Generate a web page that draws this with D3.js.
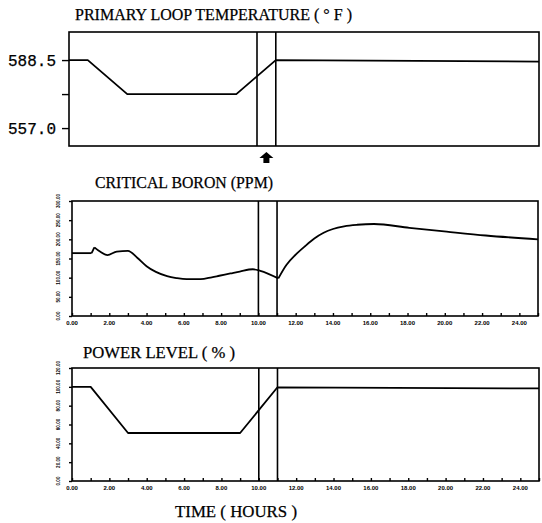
<!DOCTYPE html>
<html>
<head>
<meta charset="utf-8">
<script src="https://cdn.jsdelivr.net/npm/d3@7"></script>
<style>
  body { margin: 0; background: #fff; }
  svg { display: block; }
  .ttl { font-family: "Liberation Serif", serif; font-size: 17px; fill: #000; stroke: #000; stroke-width: 0.25px; }
  .tk { font-family: "Liberation Sans", sans-serif; font-size: 6px; font-weight: bold; fill: #000; }
  .tky { font-family: "Liberation Sans", sans-serif; font-size: 4.6px; font-weight: bold; fill: #000; }
</style>
</head>
<body>
<div id="chart"></div>
<script>
// time axis (hours)
var hourTicks = [0, 2, 4, 6, 8, 10, 12, 14, 16, 18, 20, 22, 24];
var eventHours = [10, 11];
var arrowHour = 10.5;

// primary loop temperature (F)
var tempHours = [0, 1, 3.1, 8.9, 11, 25];
var tempValues = [588.5, 588.5, 572.75, 572.75, 588.5, 587.8];
var tempTicks = [557.0, 572.75, 588.5];
var tempLabels = ["557.0", "", "588.5"];

// critical boron (ppm)
var boronHours = [0, 1.05, 1.2, 1.5, 1.9, 2.4, 3.0, 3.5, 4.0, 4.5, 5.1, 5.6, 6.15, 6.9, 7.5, 7.9, 8.5, 9.0, 9.7, 10.1, 11.07,
                  11.5, 12.0, 12.5, 13.0, 13.5, 14.0, 14.6, 15.3, 16.2, 18.1, 20.1, 22.2, 25];
var boronValues = [164, 164, 179, 168, 159, 168, 170, 152, 130, 115, 104, 99, 96, 96, 101, 105, 111, 116, 122, 118, 98,
                   133, 160, 182, 202, 217, 227, 234, 238, 240, 230, 220, 210, 200];
var boronCorners = [1.05, 1.2, 11.07]; // sharp kinks in the trace
var boronTicks = [0, 50, 100, 150, 200, 250, 300];

// power level (%)
var powerHours = [0, 1, 3, 9, 11, 25];
var powerValues = [100, 100, 51, 51, 99.5, 98.3];
var powerTicks = [0, 20, 40, 60, 80, 100, 120];

var width = 542, height = 523;

var svg = d3.select("#chart").append("svg")
    .attr("width", width)
    .attr("height", height);

function panel(opt) {
  var x = d3.scaleLinear().domain([0, 25]).range([opt.left, opt.right]);
  var y = d3.scaleLinear().domain(opt.yDomain).range([opt.bottom, opt.top]);
  var g = svg.append("g");

  // frame
  g.append("rect")
      .attr("x", opt.left).attr("y", opt.top)
      .attr("width", opt.right - opt.left).attr("height", opt.bottom - opt.top)
      .attr("fill", "none").attr("stroke", "#000").attr("stroke-width", 1.6);

  // y axis ticks
  var yAxis = d3.axisLeft(y).tickValues(opt.yTicks).tickSize(opt.yTickSize).tickFormat("");
  var ya = g.append("g").attr("transform", "translate(" + opt.left + ",0)").call(yAxis);
  ya.select(".domain").remove();
  ya.selectAll("line").attr("stroke-width", 1.4);

  if (opt.yLabels === "big") {
    g.selectAll(".ylab").data(opt.yTicks).enter().append("text")
        .attr("class", "ttl")
        .attr("x", opt.left - 13)
        .attr("y", function (d) { return y(d) + 6; })
        .attr("text-anchor", "end")
        .style("font-family", "Liberation Mono, monospace")
        .style("font-size", "16px")
        .text(function (d, i) { return tempLabels[i]; });
  } else {
    g.selectAll(".ylab").data(opt.yTicks).enter().append("text")
        .attr("class", "tky")
        .attr("transform", function (d) { return "translate(" + (opt.left - 14) + "," + y(d) + ") rotate(-90)"; })
        .attr("text-anchor", "middle")
        .attr("dy", "0.35em")
        .text(function (d) { return d3.format(".2f")(d); });
  }

  // x axis ticks
  if (opt.xTicks) {
    var xAxis = d3.axisBottom(x).tickValues(d3.range(0, 26, 1)).tickSize(-3).tickFormat("");
    var xa = g.append("g").attr("transform", "translate(0," + opt.bottom + ")").call(xAxis);
    xa.select(".domain").remove();
    xa.selectAll("line").attr("stroke-width", 1.4);
    g.selectAll(".xlab").data(hourTicks).enter().append("text")
        .attr("class", "tk")
        .attr("x", function (d) { return x(d); })
        .attr("y", opt.bottom + 9)
        .attr("text-anchor", "middle")
        .text(function (d) { return d3.format(".2f")(d); });
  }

  // event markers
  g.selectAll(".ev").data(eventHours).enter().append("line")
      .attr("x1", function (d) { return x(d); }).attr("x2", function (d) { return x(d); })
      .attr("y1", opt.top).attr("y2", opt.bottom)
      .attr("stroke", "#000").attr("stroke-width", 1.6);

  // curve, split into pieces at the corner points
  var pts = d3.zip(opt.hours, opt.values);
  var corners = opt.corners || [];
  var pieces = [], cur = [];
  pts.forEach(function (p) {
    cur.push(p);
    if (corners.indexOf(p[0]) >= 0) { pieces.push(cur); cur = [p]; }
  });
  if (cur.length > 1) pieces.push(cur);

  var line = d3.line()
      .x(function (d) { return x(d[0]); })
      .y(function (d) { return y(d[1]); })
      .curve(opt.curve || d3.curveLinear);
  g.selectAll(".trace").data(pieces).enter().append("path")
      .attr("d", line)
      .attr("fill", "none").attr("stroke", "#000").attr("stroke-width", 1.8)
      .attr("stroke-linejoin", "round");

  return x;
}

var xTop = panel({
  left: 69, right: 539, top: 32, bottom: 146,
  yDomain: [548.7, 601.5], yTicks: tempTicks, yTickSize: 7, yLabels: "big",
  hours: tempHours, values: tempValues, xTicks: false
});

panel({
  left: 72, right: 538, top: 201, bottom: 316,
  yDomain: [0, 300], yTicks: boronTicks, yTickSize: 3, yLabels: "small",
  hours: boronHours, values: boronValues, corners: boronCorners,
  xTicks: true, curve: d3.curveMonotoneX
});

panel({
  left: 72, right: 539, top: 368, bottom: 481,
  yDomain: [0, 120], yTicks: powerTicks, yTickSize: 3, yLabels: "small",
  hours: powerHours, values: powerValues, xTicks: true
});

// arrow under the top panel
var ax = xTop(arrowHour);
svg.append("path")
    .attr("d", "M" + ax + ",152 L" + (ax + 7) + ",158 L" + (ax + 3) + ",158 L" + (ax + 3) + ",163 L" +
               (ax - 3) + ",163 L" + (ax - 3) + ",158 L" + (ax - 7) + ",158 Z")
    .attr("fill", "#000");

// titles
var titles = [
  { text: "PRIMARY LOOP TEMPERATURE ( \u00b0 F )", x: 75, y: 20, len: 277 },
  { text: "CRITICAL BORON (PPM)", x: 95, y: 188, len: 178 },
  { text: "POWER LEVEL ( % )", x: 83, y: 358, len: 152 },
  { text: "TIME ( HOURS )", x: 175, y: 517, len: 122 }
];
svg.selectAll(".title").data(titles).enter().append("text")
    .attr("class", "ttl")
    .attr("x", function (d) { return d.x; })
    .attr("y", function (d) { return d.y; })
    .attr("textLength", function (d) { return d.len; })
    .attr("lengthAdjust", "spacingAndGlyphs")
    .text(function (d) { return d.text; });
</script>
</body>
</html>
